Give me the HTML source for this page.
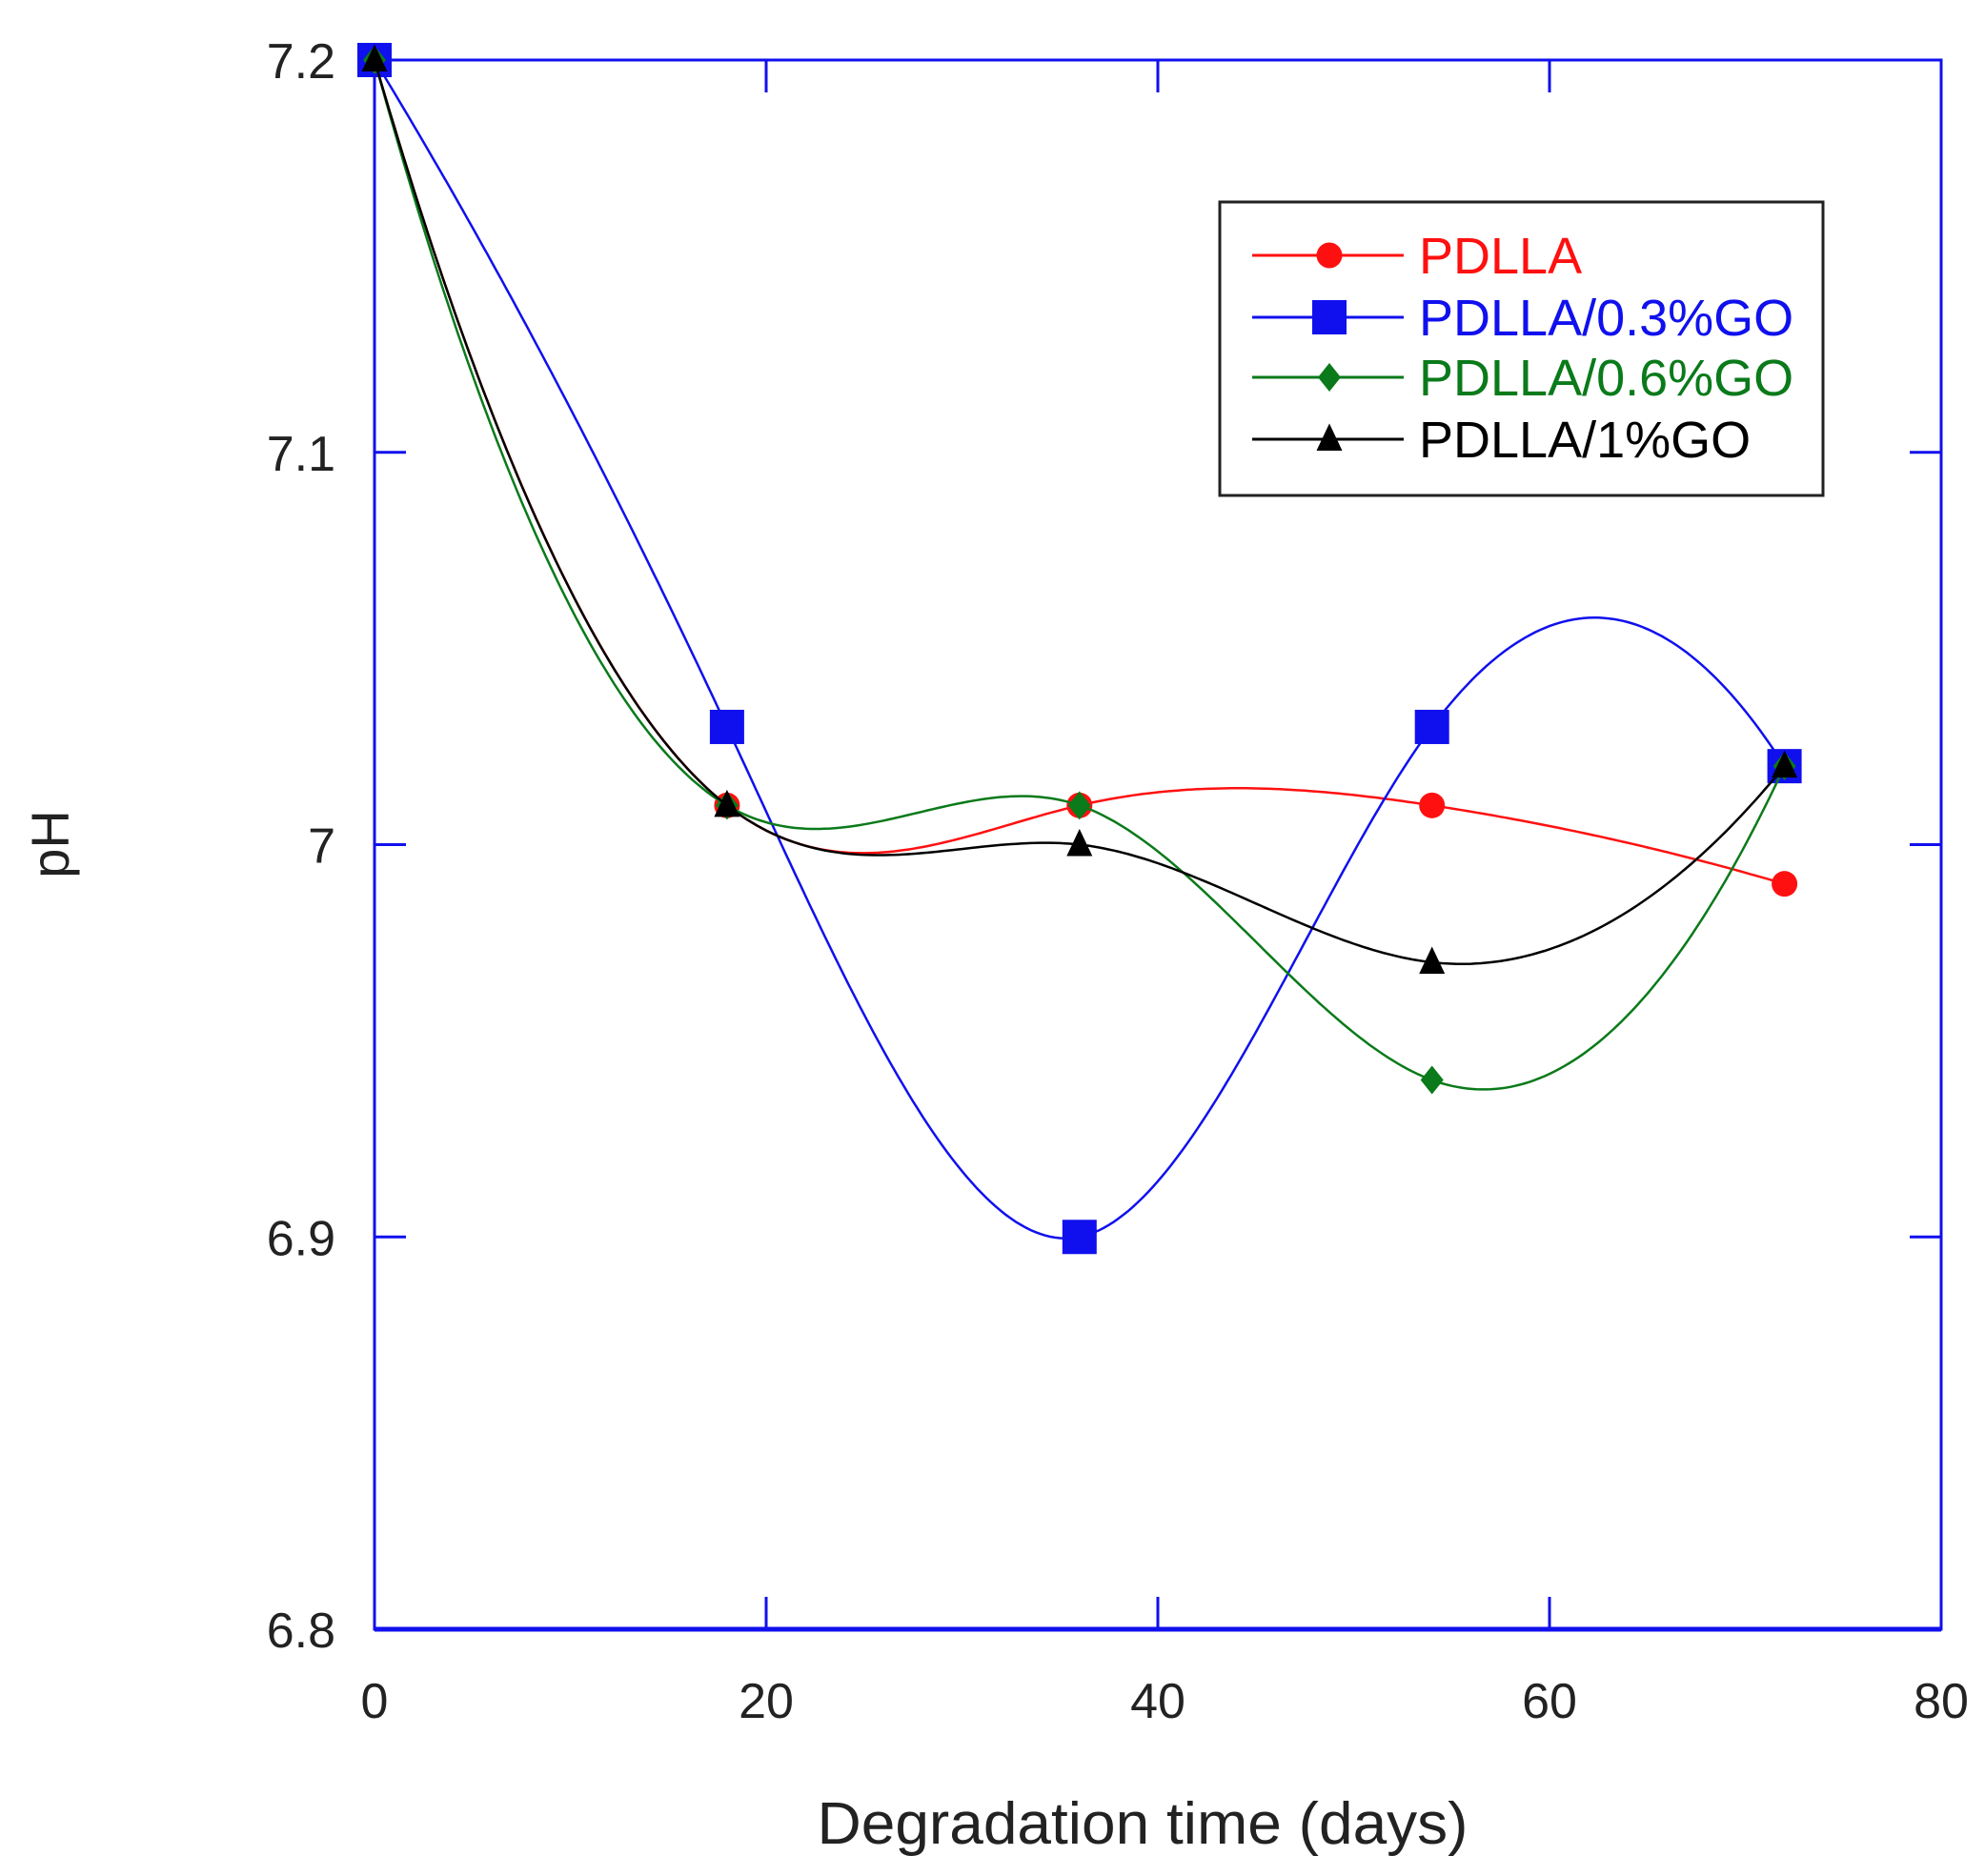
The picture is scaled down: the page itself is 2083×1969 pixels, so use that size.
<!DOCTYPE html>
<html><head><meta charset="utf-8"><style>
html,body{margin:0;padding:0;background:#fff}
svg{display:block}
text{font-family:"Liberation Sans",sans-serif}
</style></head><body>
<svg id="chart" width="2083" height="1969" viewBox="0 0 2083 1969"></svg>
<script>
const xDays=[0,18,36,54,72];
const pdlla=[7.2,7.01,7.01,7.01,6.99];
const go03=[7.2,7.03,6.90,7.03,7.02];
const go06=[7.2,7.01,7.01,6.94,7.02];
const go1=[7.2,7.01,7.00,6.97,7.02];
const xTicks=[0,20,40,60,80];
const yTicks=[6.8,6.9,7.0,7.1,7.2];
const yTickLabels=["6.8","6.9","7","7.1","7.2"];
const seriesNames=["PDLLA","PDLLA/0.3%GO","PDLLA/0.6%GO","PDLLA/1%GO"];

const L=393,R=2037,T=63,B=1710;
const sx=v=>L+(v-0)/80*(R-L);
const sy=v=>B-(v-6.8)/0.4*(B-T);
const NS="http://www.w3.org/2000/svg";
const svg=document.getElementById('chart');
function mk(tag,attrs,parent){const e=document.createElementNS(NS,tag);for(const k in attrs)e.setAttribute(k,attrs[k]);(parent||svg).appendChild(e);return e;}

// cubic spline with parabolic runout end conditions
function spline(xs,ys){
  const n=xs.length,h=[];
  for(let i=0;i<n-1;i++)h.push(xs[i+1]-xs[i]);
  const A=[],b=[];
  for(let i=0;i<n;i++){A.push(new Array(n).fill(0));b.push(0);}
  A[0][0]=1;A[0][1]=-1;
  A[n-1][n-1]=1;A[n-1][n-2]=-1;
  for(let i=1;i<n-1;i++){
    A[i][i-1]=h[i-1];A[i][i]=2*(h[i-1]+h[i]);A[i][i+1]=h[i];
    b[i]=6*((ys[i+1]-ys[i])/h[i]-(ys[i]-ys[i-1])/h[i-1]);
  }
  for(let k=0;k<n;k++){
    let p=k;for(let r=k+1;r<n;r++)if(Math.abs(A[r][k])>Math.abs(A[p][k]))p=r;
    [A[k],A[p]]=[A[p],A[k]];[b[k],b[p]]=[b[p],b[k]];
    for(let r=k+1;r<n;r++){const f=A[r][k]/A[k][k];for(let c=k;c<n;c++)A[r][c]-=f*A[k][c];b[r]-=f*b[k];}
  }
  const M=new Array(n).fill(0);
  for(let k=n-1;k>=0;k--){let s=b[k];for(let c=k+1;c<n;c++)s-=A[k][c]*M[c];M[k]=s/A[k][k];}
  return t=>{let j=0;while(j<n-2&&t>xs[j+1])j++;const hh=h[j],a=xs[j+1]-t,c=t-xs[j];
    return M[j]*a*a*a/(6*hh)+M[j+1]*c*c*c/(6*hh)+(ys[j]/hh-M[j]*hh/6)*a+(ys[j+1]/hh-M[j+1]*hh/6)*c;};
}

// axes
const axis=mk('g',{});


mk('rect',{x:L,y:T,width:R-L,height:B-T,fill:'none',stroke:'#1010ee','stroke-width':3},axis);
mk('line',{x1:L,y1:B,x2:R,y2:B,stroke:'#1010ee','stroke-width':5},axis);
xTicks.forEach((v,i)=>{
  const x=sx(v);
  if(i>0&&i<xTicks.length-1){
    mk('line',{x1:x,y1:B,x2:x,y2:B-34,stroke:'#1010ee','stroke-width':3},axis);
    mk('line',{x1:x,y1:T,x2:x,y2:T+34,stroke:'#1010ee','stroke-width':3},axis);
  }
  const t=mk('text',{x:x,y:1803,'font-size':52,'text-anchor':'middle',fill:'#222'});
  t.textContent=v;
  
  
});
yTicks.forEach((v,i)=>{
  const y=sy(v);
  if(i>0&&i<yTicks.length-1){
    mk('line',{x1:L,y1:y,x2:L+33,y2:y,stroke:'#1010ee','stroke-width':3},axis);
    mk('line',{x1:R,y1:y,x2:R-33,y2:y,stroke:'#1010ee','stroke-width':3},axis);
  }
  const t=mk('text',{x:352,y:y+19,'font-size':52,'text-anchor':'end',fill:'#222'});
  t.textContent=yTickLabels[i];
  
  
});
const xt=mk('text',{x:1199,y:1935,'font-size':62,'text-anchor':'middle',fill:'#222',textLength:683,lengthAdjust:'spacingAndGlyphs'});
xt.textContent='Degradation time (days)';


const yt=mk('text',{x:0,y:0,'font-size':56,'text-anchor':'middle',fill:'#222',transform:'translate(72,886) rotate(-90)'});
yt.textContent='pH';



const series=[
 {d:pdlla,c:'#ff1010',m:'circle',name:'pdlla'},
 {d:go03,c:'#1010ee',m:'square',name:'go-0.3'},
 {d:go06,c:'#0a7a1a',m:'diamond',name:'go-0.6'},
 {d:go1,c:'#000',m:'triangle',name:'go-1'}
];
function marker(g,type,x,y,c,s){
  let e;
  if(type==='circle')e=mk('circle',{cx:x,cy:y,r:s*0.45,fill:c},g);
  else if(type==='square')e=mk('rect',{x:x-s*0.6,y:y-s*0.6,width:s*1.2,height:s*1.2,fill:c},g);
  else if(type==='diamond')e=mk('polygon',{points:`${x},${y-s*0.5} ${x+s*0.4},${y} ${x},${y+s*0.5} ${x-s*0.4},${y}`,fill:c},g);
  else e=mk('polygon',{points:`${x},${y-s*0.55} ${x+s*0.45},${y+s*0.4} ${x-s*0.45},${y+s*0.4}`,fill:c},g);
  return e;
}
series.forEach(s=>{
  const g=mk('g',{});
  
  
  const f=spline(xDays,s.d);
  let p='';
  for(let t=0;t<=72.001;t+=0.25){p+=(p?'L':'M')+sx(t).toFixed(1)+','+sy(f(t)).toFixed(1);}
  const path=mk('path',{d:p,fill:'none',stroke:s.c,'stroke-width':2.5},g);
  
  
  xDays.forEach((xv,i)=>{
    const m=marker(g,s.m,sx(xv),sy(s.d[i]),s.c,30);
    
    
  });
});

// legend
const lg=mk('g',{});


mk('rect',{x:1280,y:212,width:633,height:308,fill:'#fff',stroke:'#222','stroke-width':3},lg);
const rowsY=[268,333,396,461];
series.forEach((s,i)=>{
  const e=mk('g',{},lg);
  
  
  mk('line',{x1:1314,y1:rowsY[i],x2:1473,y2:rowsY[i],stroke:s.c,'stroke-width':3},e);
  marker(e,s.m,1395,rowsY[i],s.c,30);
  const t=mk('text',{x:1489,y:rowsY[i]+19,'font-size':54,fill:s.c});
  t.textContent=seriesNames[i];
});
</script>
</body></html>
